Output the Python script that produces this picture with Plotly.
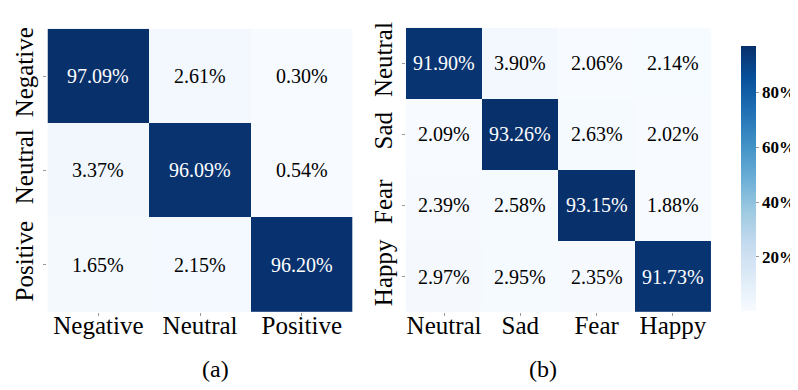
import plotly.graph_objects as go

labels_a = ["Negative", "Neutral", "Positive"]
values_a = [
    [97.09, 2.61, 0.30],
    [3.37, 96.09, 0.54],
    [1.65, 2.15, 96.20],
]
labels_b = ["Neutral", "Sad", "Fear", "Happy"]
values_b = [
    [91.90, 3.90, 2.06, 2.14],
    [2.09, 93.26, 2.63, 2.02],
    [2.39, 2.58, 93.15, 1.88],
    [2.97, 2.95, 2.35, 91.73],
]
cbar_ticks = [20, 40, 60, 80]
cbar_ticktext = ["20%", "40%", "60%", "80%"]
captions = ["(a)", "(b)"]

SERIF = "Liberation Serif"
W, H = 798, 390

fig = go.Figure()

fig.add_trace(go.Heatmap(
    z=values_a, x=labels_a, y=labels_a, coloraxis="coloraxis",
    xaxis="x", yaxis="y", hoverinfo="skip",
))
fig.add_trace(go.Heatmap(
    z=values_b, x=labels_b, y=labels_b, coloraxis="coloraxis2",
    xaxis="x2", yaxis="y2", hoverinfo="skip",
))

annotations = []
for labels, values, xr, yr in [(labels_a, values_a, "x", "y"), (labels_b, values_b, "x2", "y2")]:
    for i, rl in enumerate(labels):
        for j, cl in enumerate(labels):
            v = values[i][j]
            annotations.append(dict(
                x=cl, y=rl, xref=xr, yref=yr, text=f"{v:.2f}%", showarrow=False,
                font=dict(family=SERIF, size=20, color="white" if v > 50 else "black"),
            ))

annotations.append(dict(x=(40 + 349) / 2 / W, y=1 - 361 / H, xref="paper", yref="paper",
                        yanchor="middle", text=captions[0], showarrow=False,
                        font=dict(family=SERIF, size=24, color="black")))
annotations.append(dict(x=(403 + 712) / 2 / W, y=1 - 361 / H, xref="paper", yref="paper",
                        yanchor="middle", text=captions[1], showarrow=False,
                        font=dict(family=SERIF, size=24, color="black")))

axis_common = dict(showgrid=False, zeroline=False, showline=False, ticks="outside",
                   ticklen=3, tickcolor="#999999", tickwidth=1,
                   tickfont=dict(family=SERIF, size=25, color="black"))

fig.update_layout(
    width=W, height=H,
    margin=dict(l=0, r=0, t=0, b=0),
    paper_bgcolor="white", plot_bgcolor="white",
    font=dict(family=SERIF, color="black"),
    xaxis=dict(domain=[40 / W, 349 / W], anchor="y", ticklabelstandoff=-12, **axis_common),
    yaxis=dict(domain=[1 - 303 / H, 1 - 16 / H], anchor="x", autorange="reversed",
               tickangle=-90, **axis_common),
    xaxis2=dict(domain=[403 / W, 712 / W], anchor="y2", ticklabelstandoff=-12, **axis_common),
    yaxis2=dict(domain=[1 - 303 / H, 1 - 15 / H], anchor="x2", autorange="reversed",
                tickangle=-90, **axis_common),
    coloraxis=dict(
        colorscale="Blues",
        cmin=min(min(r) for r in values_a), cmax=max(max(r) for r in values_a),
        colorbar=dict(
            x=732 / W, xanchor="left", y=1 - 23 / H, yanchor="top",
            len=(312 - 23) / H, lenmode="fraction", thickness=15,
            outlinewidth=0, ticks="outside", ticklen=3, tickcolor="#999999",
            tickvals=cbar_ticks, ticktext=cbar_ticktext,
            tickfont=dict(family=SERIF, size=17, color="black", weight="bold"),
        ),
    ),
    coloraxis2=dict(
        colorscale="Blues", showscale=False,
        cmin=min(min(r) for r in values_b), cmax=max(max(r) for r in values_b),
    ),
    annotations=annotations,
)

fig.write_html("out.html")
